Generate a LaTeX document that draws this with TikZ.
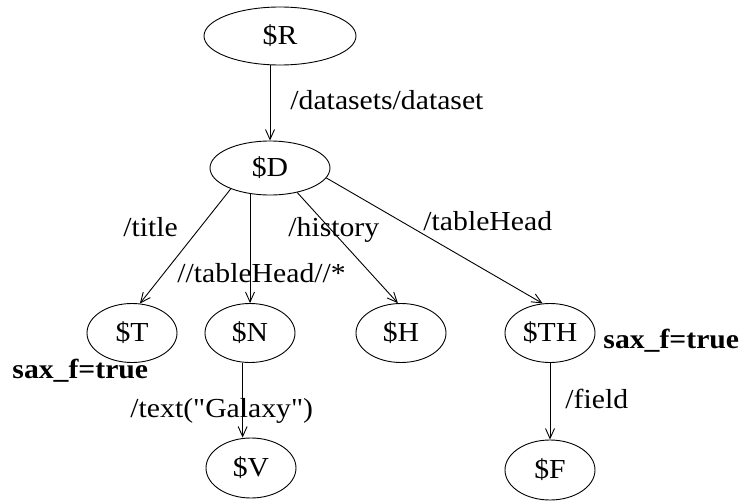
\documentclass[tikz,border=0pt]{standalone}
\usepackage{fontspec}
\setmainfont[FakeStretch=1.08,Ligatures=TeXOff]{Liberation Serif}
\usetikzlibrary{shapes.geometric,arrows.meta}

\begin{document}
\begin{tikzpicture}[x=1pt,y=-1pt,line width=0.9pt,
		font=\fontsize{27.5}{32}\selectfont,
		var/.style={draw,ellipse,inner sep=0pt,minimum width=90pt,minimum height=59pt},
		lbl/.style={anchor=base west,inner sep=0pt},
		>={Straight Barb[length=10pt,width=9pt]}]
		\useasboundingbox (0,0) rectangle (742,501);
		% variables
		\node[var,minimum width=152pt,minimum height=58pt] (R) at (280,36) {\$R};
		\node[var,minimum width=120pt,minimum height=54pt] (D) at (270,168) {\$D};
		\node[var] (T) at (132,333) {\$T};
		\node[var] (N) at (250,333) {\$N};
		\node[var] (H) at (401,333) {\$H};
		\node[var] (TH) at (550,333) {\$TH};
		\node[var,minimum height=60pt] (V) at (251,468) {\$V};
		\node[var,minimum height=60pt] (F) at (550,470) {\$F};
		% edges
		\draw[->] (D.north |- R.south) -- (D.north);
		\draw[->] (D.208) -- (T.75);
		\draw[->] (N.north |- D.235) -- (N.north);
		\draw[->] (D.318) -- (H.96);
		\draw[->] (D.350) -- (TH.104);
		\draw[->] (N.256) -- (N.256 |- V.north);
		\draw[->] (TH) -- (F);
		% path labels
		\node[lbl] (pR) at (290,109) {/datasets/dataset};
		\node[lbl] (pT) at (123,236) {/title};
		\node[lbl] (pH) at (288,236) {/history};
		\node[lbl] (pN) at (177,282) {//tableHead//*};
		\node[lbl] (pTH) at (423,230) {/tableHead};
		\node[lbl] (pV) at (130,417) {/text("Galaxy")};
		\node[lbl] (pF) at (565,408) {/field};
		\node[lbl] (sT) at (12,378) {\textbf{sax\_f=true}};
		\node[lbl] (sTH) at (603,348) {\textbf{sax\_f=true}};
	\end{tikzpicture}
\end{document}
